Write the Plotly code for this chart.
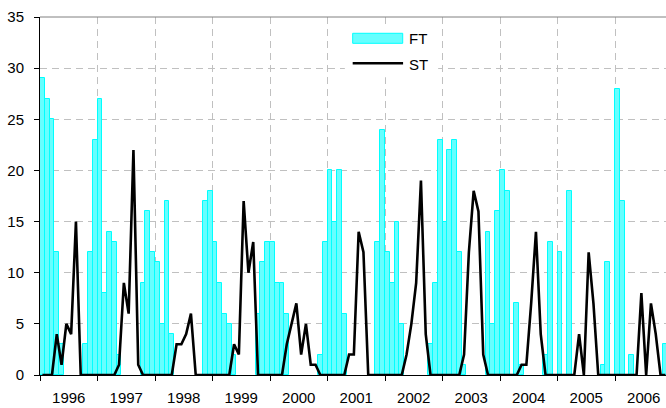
import plotly.graph_objects as go

YEARS = ["1996", "1997", "1998", "1999", "2000", "2001",
         "2002", "2003", "2004", "2005", "2006"]

# monthly values, Jan 1996 .. Nov 2006
FT = [29, 27, 25, 12, 3, 0, 0, 0, 0, 3, 12, 23,      # 1996
      27, 8, 14, 13, 2, 0, 0, 0, 0, 9, 16, 12,       # 1997
      11, 5, 17, 4, 0, 0, 0, 0, 0, 0, 17, 18,        # 1998
      13, 9, 6, 5, 2, 0, 0, 0, 0, 6, 11, 13,         # 1999
      13, 9, 9, 6, 0, 0, 0, 0, 0, 0, 2, 13,          # 2000
      20, 15, 20, 6, 0, 0, 0, 0, 0, 0, 13, 24,       # 2001
      12, 9, 15, 5, 0, 0, 0, 0, 0, 3, 9, 23,         # 2002
      15, 22, 23, 12, 1, 0, 0, 0, 0, 14, 5, 16,      # 2003
      20, 18, 0, 7, 1, 0, 0, 0, 0, 2, 13, 0,         # 2004
      12, 0, 18, 0, 0, 0, 0, 0, 0, 1, 11, 0,         # 2005
      28, 17, 0, 2, 0, 0, 0, 0, 0, 0, 3]             # 2006

ST = [0, 0, 0, 4, 1, 5, 4, 15, 0, 0, 0, 0,           # 1996
      0, 0, 0, 0, 1, 9, 6, 22, 1, 0, 0, 0,           # 1997
      0, 0, 0, 0, 3, 3, 4, 6, 0, 0, 0, 0,            # 1998
      0, 0, 0, 0, 3, 2, 17, 10, 13, 0, 0, 0,         # 1999
      0, 0, 0, 3, 5, 7, 2, 5, 1, 1, 0, 0,            # 2000
      0, 0, 0, 0, 2, 2, 14, 12, 0, 0, 0, 0,          # 2001
      0, 0, 0, 0, 2, 5, 9, 19, 4, 0, 0, 0,           # 2002
      0, 0, 0, 0, 2, 12, 18, 16, 2, 0, 0, 0,         # 2003
      0, 0, 0, 0, 1, 1, 7, 14, 4, 0, 0, 0,           # 2004
      0, 0, 0, 0, 4, 0, 12, 7, 0, 0, 0, 0,           # 2005
      0, 0, 0, 0, 0, 8, 0, 7, 4, 0, 0]               # 2006

MONTHS = list(range(len(FT)))
YEAR_CENTERS = [12 * i + 5.5 for i in range(len(YEARS))]

BAR_FILL = "rgb(102,255,255)"
BAR_EDGE = "rgb(0,255,255)"
GRID = "#C0C0C0"
FONT = "Arial, Liberation Sans, sans-serif"

fig = go.Figure()
fig.add_trace(go.Bar(
    x=MONTHS, y=[v if v else None for v in FT], name="FT", width=1,
    marker=dict(color=BAR_FILL, line=dict(color=BAR_EDGE, width=1)),
))
fig.add_trace(go.Scatter(
    x=MONTHS, y=ST, name="ST", mode="lines",
    line=dict(color="black", width=2.6),
))

fig.update_layout(
    width=666, height=408,
    margin=dict(l=40, r=0, t=17, b=33, autoexpand=False),
    paper_bgcolor="white", plot_bgcolor="white",
    showlegend=False, bargap=0,
    font=dict(family=FONT, color="black"),
    xaxis=dict(
        range=[-0.5, 130.14], tickmode="array", tickvals=YEAR_CENTERS,
        ticktext=YEARS, ticks="", showgrid=False, zeroline=False,
        showline=True, linecolor="black", linewidth=1,
        tickfont=dict(size=15), automargin=False, ticklabelstandoff=9,
        minor=dict(tick0=-0.5, dtick=12, ticks="outside", ticklen=5,
                   tickcolor="black", showgrid=True, gridcolor=GRID,
                   griddash="7px,5px", gridwidth=1),
    ),
    yaxis=dict(
        range=[0, 35], dtick=5, ticks="outside", ticklen=5, tickcolor="black",
        showgrid=True, gridcolor=GRID, griddash="7px,5px", gridwidth=1,
        zeroline=False, showline=True, linecolor="black", linewidth=1,
        tickfont=dict(size=15), ticklabelstandoff=7, automargin=False,
    ),
)

# top border of plot area
fig.add_shape(type="line", xref="paper", yref="paper", x0=0, x1=1, y0=1, y1=1,
              line=dict(color="#808080", width=1), layer="above")

# legend (wide swatches as in the original)
fig.add_shape(type="rect", xref="paper", yref="paper",
              x0=0.487, x1=0.636, y0=0.832, y1=0.980,
              fillcolor="white", line=dict(width=0), layer="above")
fig.add_shape(type="rect", xref="paper", yref="paper",
              x0=0.4995, x1=0.5794, y0=0.9265, y1=0.9545,
              fillcolor=BAR_FILL, line=dict(color=BAR_EDGE, width=1), layer="above")
fig.add_shape(type="line", xref="paper", yref="paper",
              x0=0.4995, x1=0.5800, y0=0.8707, y1=0.8707,
              line=dict(color="black", width=2.6), layer="above")
fig.add_annotation(text="FT", xref="paper", yref="paper", x=0.5858, y=0.9413,
                   xanchor="left", yanchor="middle", showarrow=False,
                   font=dict(size=15, family=FONT, color="black"))
fig.add_annotation(text="ST", xref="paper", yref="paper", x=0.5858, y=0.8687,
                   xanchor="left", yanchor="middle", showarrow=False,
                   font=dict(size=15, family=FONT, color="black"))

fig.write_html("out.html", config={"displayModeBar": False},
               post_script="document.body.style.margin='0px';"
                           "document.body.style.overflow='hidden';")
